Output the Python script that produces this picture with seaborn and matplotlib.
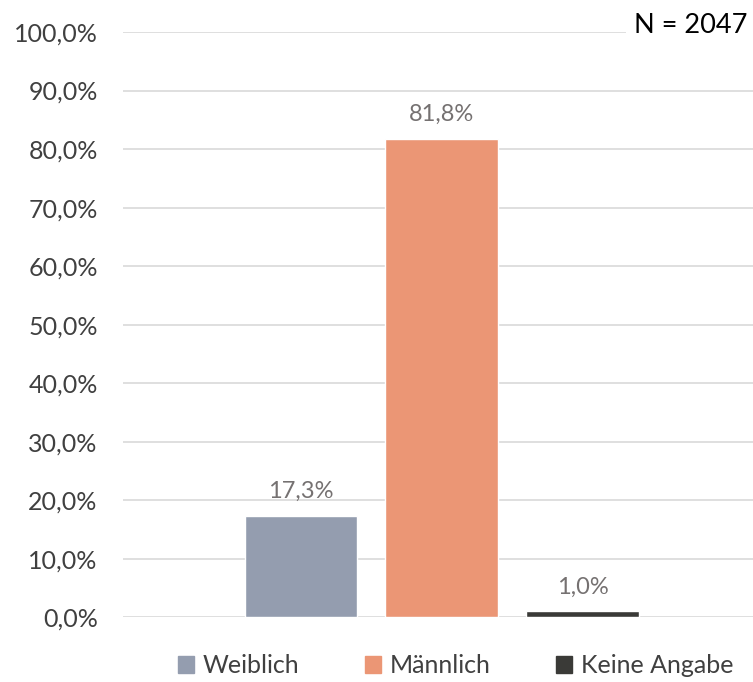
import pandas as pd
import matplotlib.pyplot as plt
import seaborn as sns
from matplotlib.ticker import FuncFormatter

# data
categories = ['Weiblich', 'Männlich', 'Keine Angabe']
shares = [17.3, 81.8, 1.0]
colors = ['#949DAF', '#EB9675', '#3A3A37']
n_total = 2047

df = pd.DataFrame({'group': ['alle'] * len(categories), 'geschlecht': categories, 'anteil': shares})

sns.set_theme(style='white')
plt.rcParams['font.family'] = ['Lato', 'DejaVu Sans']

fig = plt.figure(figsize=(7.53, 6.82), dpi=100)
ax = fig.add_axes([0.163, 0.095, 0.837, 0.858])

sns.barplot(data=df, x='group', y='anteil', hue='geschlecht', hue_order=categories,
            palette=colors, width=0.67, gap=0.2, saturation=1, ax=ax, legend=True)

ax.set_ylim(0, 100)
ax.set_xlim(-0.506, 0.494)
ax.set_yticks(range(0, 101, 10))
ax.yaxis.set_major_formatter(FuncFormatter(lambda v, p: f'{v:.1f}%'.replace('.', ',')))
ax.tick_params(axis='y', labelsize=18, labelcolor='#404040', length=0, pad=18)
ax.set_xticks([])
ax.set_xlabel('')
ax.set_ylabel('')
ax.grid(axis='y', color='#D9D9D9', linewidth=1.2)
ax.set_axisbelow(True)
for s in ax.spines.values():
    s.set_visible(False)

# value labels
for cont in ax.containers:
    ax.bar_label(cont, labels=[f'{v:.1f}%'.replace('.', ',') for v in cont.datavalues],
                 padding=10, fontsize=17, color='#757171')

fig.text(0.993, 0.963, f'N = {n_total}', ha='right', va='center', fontsize=19.5, color='black',
         bbox=dict(facecolor='white', edgecolor='none', pad=6))

ax.get_legend().remove()
handles = [plt.Rectangle((0, 0), 1, 1, color=c) for c in colors]
fig.legend(handles, categories, loc='center', bbox_to_anchor=(0.605, 0.024), ncol=3, frameon=False,
           fontsize=18, handlelength=0.65, handleheight=0.65, handletextpad=0.35, columnspacing=2.6,
           labelcolor='#404040')

fig.savefig('out.png', dpi=100)
